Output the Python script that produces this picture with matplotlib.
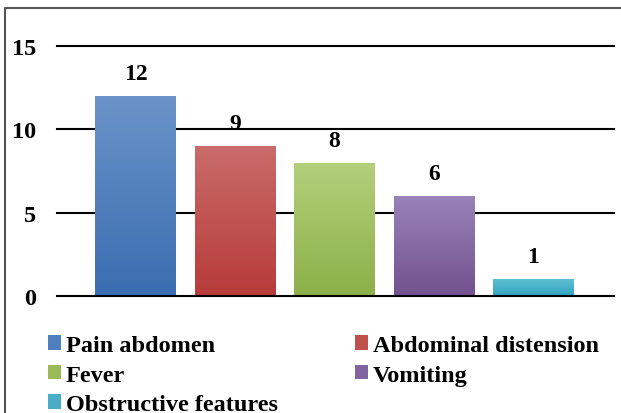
import numpy as np
import matplotlib
matplotlib.use('Agg')
import matplotlib.pyplot as plt
from matplotlib.colors import LinearSegmentedColormap
from matplotlib.patches import Patch
from matplotlib.lines import Line2D

plt.rcParams['font.family'] = ['Liberation Serif', 'DejaVu Serif']
plt.rcParams['font.weight'] = 'bold'

symptoms = ['Pain abdomen', 'Abdominal distension', 'Fever', 'Vomiting', 'Obstructive features']
counts = [12, 9, 8, 6, 1]
yticks = [0, 5, 10, 15]

# colour at top and bottom of each bar (vertical gradient)
tops = ['#6b93c9', '#c96c6a', '#b3d07c', '#9a82ba', '#5dc0d4']
bottoms = ['#3a6db0', '#b73b39', '#8db048', '#73518e', '#33a3bf']
mids = ['#4f7fbe', '#c0504d', '#9bbb59', '#8064a2', '#4bacc6']

W, H = 621, 414
fig = plt.figure(figsize=(W / 100, H / 100), dpi=100)
ax = fig.add_axes([57 / W, 1 - 297 / H, (614 - 57) / W, (297 - 47) / H])

x = np.arange(len(symptoms))
bars = ax.bar(x, counts, width=0.81, color='none', zorder=3)
grad = np.linspace(0, 1, 256).reshape(-1, 1)
for b, c_top, c_bot in zip(bars, tops, bottoms):
    cmap = LinearSegmentedColormap.from_list('g', [c_bot, c_top])
    x0, y0 = b.get_x(), b.get_y()
    im = ax.imshow(grad, cmap=cmap, origin='lower', aspect='auto', zorder=3,
                   extent=[x0, x0 + b.get_width(), y0, y0 + b.get_height()])
    im.set_clip_path(b)

for xi, v in zip(x, counts):
    ax.text(xi, v + 1.02, str(v), ha='center', va='baseline', fontsize=17,
            fontweight='bold')

ax.set_xlim(-0.79, 4.81)
ax.set_ylim(0, 15)
ax.set_yticks(yticks)
ax.set_xticks([])
for t in yticks:
    ax.axhline(t, color='black', linewidth=1.5, zorder=1 if t else 4, clip_on=False)
ax.tick_params(axis='y', length=0, pad=15, labelsize=17.5)
for s in ax.spines.values():
    s.set_visible(False)

# legend laid out row by row
order = [0, 2, 4, 1, 3]
handles = [Patch(facecolor=mids[i], edgecolor='none') for i in order]
labels = [symptoms[i] for i in order]
fig.legend(handles, labels, ncol=2, loc='upper left',
           bbox_to_anchor=(48 / W, 1 - 336 / H), frameon=False,
           prop={'size': 17.5, 'weight': 'bold'}, handlelength=0.53,
           handleheight=0.53, handletextpad=0.2, columnspacing=3.17,
           labelspacing=0.35, borderaxespad=0, borderpad=0)

# chart-area border along the left and top edges
fig.add_artist(Line2D([5 / W, 5 / W, 1.0], [0.0, 1 - 9 / H, 1 - 9 / H],
                      transform=fig.transFigure, color='#555555', linewidth=1.5))

fig.savefig('out.png', dpi=100)
